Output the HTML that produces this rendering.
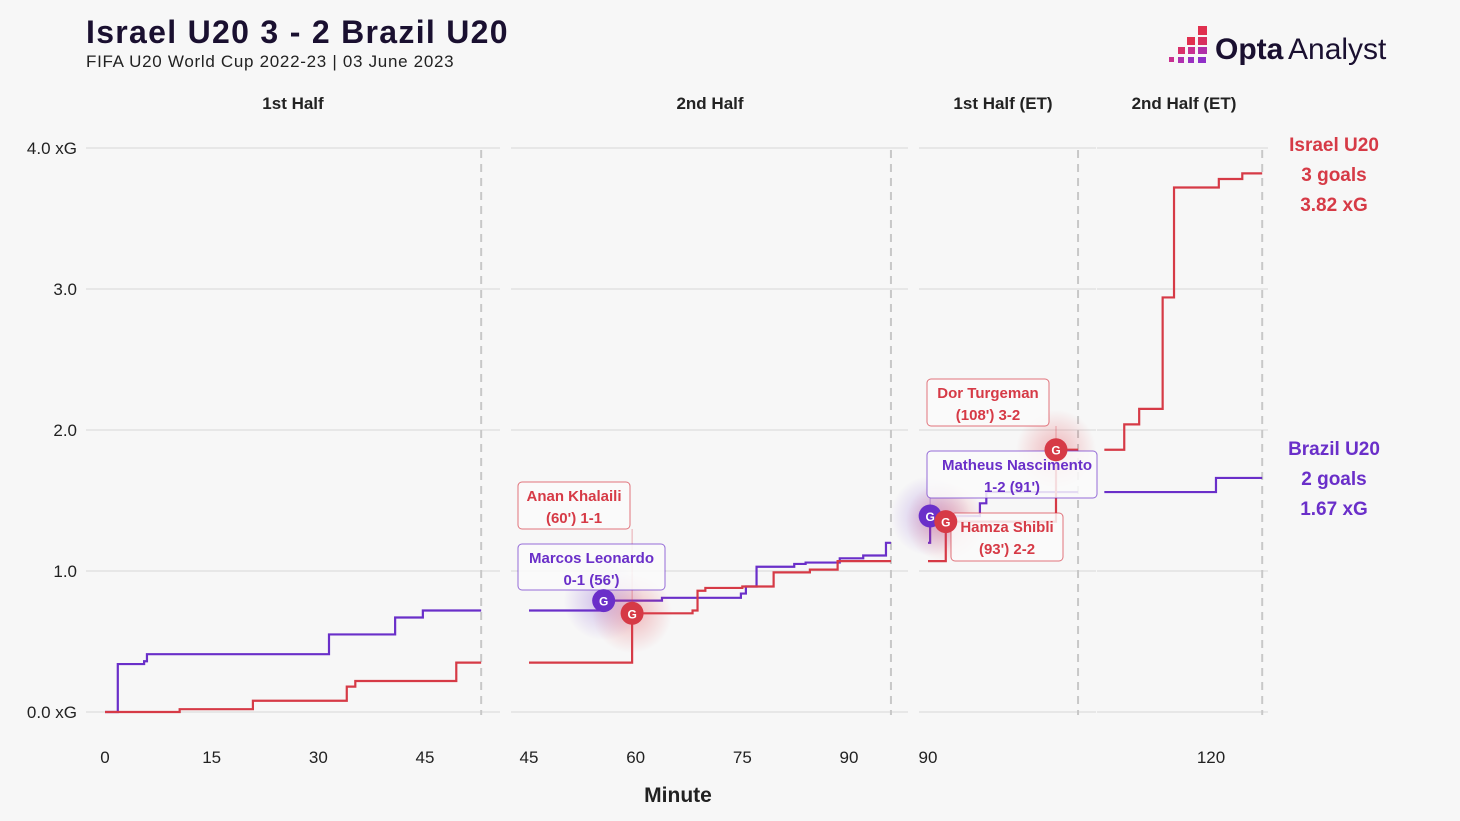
<!DOCTYPE html>
<html><head><meta charset="utf-8"><style>
body{margin:0;background:#f7f7f7;font-family:"Liberation Sans",sans-serif;}
svg{display:block}
</style></head><body>
<svg id="c" width="1460" height="821" viewBox="0 0 1460 821">
<defs>
<radialGradient id="gr"><stop offset="0" stop-color="#e0404b" stop-opacity="0.35"/><stop offset="1" stop-color="#e0404b" stop-opacity="0"/></radialGradient>
<radialGradient id="gp"><stop offset="0" stop-color="#6a2fc9" stop-opacity="0.3"/><stop offset="1" stop-color="#6a2fc9" stop-opacity="0"/></radialGradient>
</defs>
<text x="86" y="43" font-size="32" font-weight="bold" fill="#1a1030" letter-spacing="1.3">Israel U20 3 - 2 Brazil U20</text>
<text x="86" y="67" font-size="17" fill="#222" letter-spacing="0.7">FIFA U20 World Cup 2022-23 | 03 June 2023</text>
<g>
<rect x="1198" y="26" width="9" height="9" fill="#e0304f"/>
<rect x="1187" y="37" width="8" height="8" fill="#e0304f"/><rect x="1198" y="37" width="9" height="8" fill="#d8305f"/>
<rect x="1178" y="47" width="7" height="7" fill="#d8306a"/><rect x="1188" y="47" width="7" height="7" fill="#c83090"/><rect x="1198" y="47" width="9" height="7" fill="#b030a8"/>
<rect x="1169" y="57" width="5" height="5" fill="#c83090"/><rect x="1178" y="57" width="6" height="6" fill="#b030b0"/><rect x="1188" y="57" width="6" height="6" fill="#9a30c0"/><rect x="1198" y="57" width="8" height="6" fill="#9030c8"/>
<text x="1215" y="59" font-size="30" font-weight="bold" fill="#1a1030">Opta</text>
<text x="1288" y="59" font-size="30" fill="#1a1030">Analyst</text>
</g>
<g id="grid"></g><g id="lines"></g><g id="marks"></g>
<text x="678" y="802" text-anchor="middle" font-size="21" font-weight="bold" fill="#222">Minute</text>
<g font-size="19" font-weight="bold" text-anchor="middle">
<text x="1334" y="151" fill="#d63a46">Israel U20</text>
<text x="1334" y="181" fill="#d63a46">3 goals</text>
<text x="1334" y="211" fill="#d63a46">3.82 xG</text>
<text x="1334" y="455" fill="#6a2fc9">Brazil U20</text>
<text x="1334" y="485" fill="#6a2fc9">2 goals</text>
<text x="1334" y="515" fill="#6a2fc9">1.67 xG</text>
</g>
</svg>
<script>
const NS="http://www.w3.org/2000/svg";
const periodNames=["1st Half","2nd Half","1st Half (ET)","2nd Half (ET)"];
const periodStart=[0,45,90,105];
const periodEnd=[52.9,95.9,111.1,127.2];
const periodZeroMin=[0,45,90,120];
const periodZeroX=[105,529,928,1211];
const gridLeft=[86,511,919,1097];
const gridRight=[500,908,1096,1268];
const periodTicks=[[0,15,30,45],[45,60,75,90],[90],[120]];
const yTicks=[0,1,2,3,4];
const yTickLabels=["0.0 xG","1.0","2.0","3.0","4.0 xG"];
const israelMin=[[0,10.5,20.8,34,35.2,49.4],[45,59.5,68,68.7,69.8,75,79.4,84.5,88.4],[90,92.5,108],[105,107.8,109.9,113.2,114.8,121.1,124.4]];
const israelVal=[[0,0.02,0.08,0.18,0.22,0.35],[0.35,0.70,0.72,0.86,0.88,0.89,0.99,1.01,1.07],[1.07,1.35,1.86],[1.86,2.04,2.15,2.94,3.72,3.78,3.82]];
const brazilMin=[[0,1.8,5.5,5.9,31.5,40.8,44.7],[45,55.5,63.7,74.8,75.5,77,82.3,83.9,88.7,92,95.2],[90,90.3,97.3,98.2],[105,120.7]];
const brazilVal=[[0,0.34,0.36,0.41,0.55,0.67,0.72],[0.72,0.79,0.81,0.84,0.89,1.03,1.05,1.06,1.09,1.11,1.20],[1.20,1.39,1.48,1.56],[1.56,1.66]];
const goalTeam=["brazil","israel","brazil","israel","israel"];
const goalPeriod=[1,1,2,2,2];
const goalMin=[55.5,59.5,90.3,92.5,108];
const goalVal=[0.79,0.70,1.39,1.35,1.86];
const goalLabel1=["Marcos Leonardo","Anan Khalaili","Matheus Nascimento","Hamza Shibli","Dor Turgeman"];
const goalLabel2=["0-1 (56')","(60') 1-1","1-2 (91')","(93') 2-2","(108') 3-2"];
const RED="#d63a46",PURPLE="#6a2fc9";
const PX=7.111;
function xs(p,m){return periodZeroX[p]+(m-periodZeroMin[p])*PX;}
function ys(v){return 712-v*141;}
function el(t,a,par){const e=document.createElementNS(NS,t);for(const k in a)e.setAttribute(k,a[k]);par.appendChild(e);return e;}
const grid=document.getElementById('grid'),lines=document.getElementById('lines'),marks=document.getElementById('marks');
yTicks.forEach((v,i)=>{
  for(let p=0;p<4;p++){const l=el('line',{x1:gridLeft[p],x2:gridRight[p],y1:ys(v),y2:ys(v),stroke:'#e2e2e2','stroke-width':1.5},grid);
  
  }
  const t=el('text',{x:77,y:ys(v)+6,'text-anchor':'end','font-size':17,fill:'#222'},grid);t.textContent=yTickLabels[i];
  
  
});
for(let p=0;p<4;p++){
  const xe=xs(p,periodEnd[p]);
  const d=el('line',{x1:xe,x2:xe,y1:150,y2:715,stroke:'#c8c8c8','stroke-width':2,'stroke-dasharray':'8,6'},grid);
  
  
  const h=el('text',{x:[293,710,1003,1184][p],y:109,'text-anchor':'middle','font-size':17,'font-weight':'bold',fill:'#222'},grid);h.textContent=periodNames[p];
  
  
  periodTicks[p].forEach(m=>{const t=el('text',{x:xs(p,m),y:763,'text-anchor':'middle','font-size':17,fill:'#222'},grid);t.textContent=m;
  
  });
}
function drawSteps(mins,vals,color,name){
  for(let p=0;p<4;p++){
    let d='M'+xs(p,mins[p][0])+','+ys(vals[p][0]);
    for(let i=1;i<mins[p].length;i++){d+='H'+xs(p,mins[p][i])+'V'+ys(vals[p][i]);}
    d+='H'+xs(p,periodEnd[p]);
    const path=el('path',{d:d,fill:'none',stroke:color,'stroke-width':2.2},lines);
    
    
  }
}
drawSteps(brazilMin,brazilVal,PURPLE,'brazil');
drawSteps(israelMin,israelVal,RED,'israel');
const boxes=[[518,544,147,46],[518,482,112,47],[927,451,170,47],[951,513,112,48],[927,379,122,47]];
goalMin.forEach((m,i)=>{
  const c=goalTeam[i]=='israel'?RED:PURPLE;
  const x=xs(goalPeriod[i],m),y=ys(goalVal[i]);
  const b=boxes[i];
  const ln=el('line',{x1:x,x2:x,y1:b[1]+b[3],y2:y,stroke:c,'stroke-width':1,'stroke-opacity':0.4},marks);
  
  
  const g=el('circle',{cx:x,cy:y,r:40,fill:goalTeam[i]=='israel'?'url(#gr)':'url(#gp)'},marks);
  
  
});
goalMin.forEach((m,i)=>{
  const c=goalTeam[i]=='israel'?RED:PURPLE;
  const b=boxes[i];
  const r=el('rect',{x:b[0],y:b[1],width:b[2],height:b[3],rx:4,fill:'rgba(250,250,250,0.85)',stroke:c,'stroke-opacity':0.7,'stroke-width':1},marks);
  
  
  const cx=b[0]+b[2]/2+(i==2?5:0);
  const t1=el('text',{x:cx,y:b[1]+19,'text-anchor':'middle','font-size':15,'font-weight':'bold',fill:c},marks);t1.textContent=goalLabel1[i];
  
  
  const t2=el('text',{x:b[0]+b[2]/2,y:b[1]+41,'text-anchor':'middle','font-size':15,'font-weight':'bold',fill:c},marks);t2.textContent=goalLabel2[i];
  
  
});
goalMin.forEach((m,i)=>{
  const c=goalTeam[i]=='israel'?RED:PURPLE;
  const x=xs(goalPeriod[i],m),y=ys(goalVal[i]);
  const ci=el('circle',{cx:x,cy:y,r:11.5,fill:c},marks);
  
  
  const t=el('text',{x:x,y:y+5,'text-anchor':'middle','font-size':12,'font-weight':'bold',fill:'#fff'},marks);t.textContent='G';
  
  
});
</script>
</body></html>
